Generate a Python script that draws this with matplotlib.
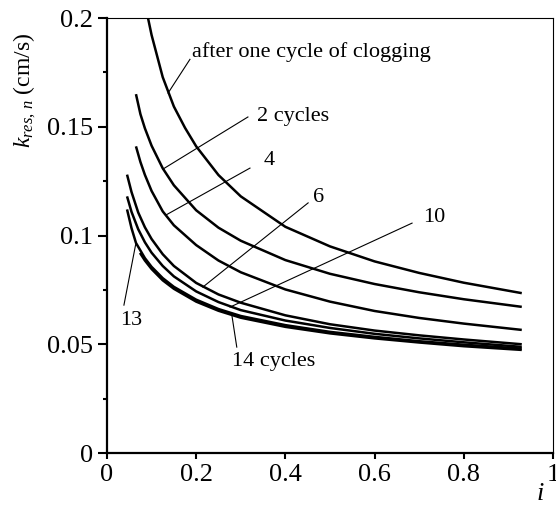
import matplotlib
matplotlib.use("Agg")
import matplotlib.pyplot as plt

plt.rcParams['font.family'] = 'Liberation Serif'
plt.rcParams['mathtext.fontset'] = 'custom'
plt.rcParams['mathtext.rm'] = 'Liberation Serif'
plt.rcParams['mathtext.it'] = 'Liberation Serif:italic'

# curves (hydraulic gradient i vs k_res,n)
i_c1 = [0.092, 0.1, 0.125, 0.15, 0.175, 0.2, 0.25, 0.3, 0.4, 0.5, 0.6, 0.7, 0.8, 0.93]
k_c1 = [0.2, 0.1922, 0.1728, 0.1593, 0.1495, 0.141, 0.1278, 0.1180, 0.1040, 0.0950, 0.0881, 0.0828, 0.0783, 0.0735]

i_c2 = [0.065, 0.075, 0.085, 0.1, 0.125, 0.15, 0.2, 0.25, 0.3, 0.4, 0.5, 0.6, 0.7, 0.8, 0.93]
k_c2 = [0.165, 0.1558, 0.1493, 0.1413, 0.1309, 0.1231, 0.1116, 0.1036, 0.0976, 0.0887, 0.0824, 0.0777, 0.0739, 0.0707, 0.0672]

i_c4 = [0.065, 0.075, 0.085, 0.1, 0.125, 0.15, 0.2, 0.25, 0.3, 0.4, 0.5, 0.6, 0.7, 0.8, 0.93]
k_c4 = [0.141, 0.1338, 0.1279, 0.1205, 0.1111, 0.1047, 0.0956, 0.0885, 0.0831, 0.0752, 0.0696, 0.0653, 0.0621, 0.0595, 0.0566]

i_c6 = [0.045, 0.055, 0.07, 0.085, 0.1, 0.125, 0.15, 0.2, 0.25, 0.3, 0.4, 0.5, 0.6, 0.7, 0.8, 0.93]
k_c6 = [0.128, 0.120, 0.1106, 0.1038, 0.0984, 0.0914, 0.0860, 0.0782, 0.0729, 0.0691, 0.0633, 0.0592, 0.0563, 0.0541, 0.0522, 0.0500]

i_c10 = [0.045, 0.055, 0.07, 0.085, 0.1, 0.125, 0.15, 0.2, 0.25, 0.3, 0.4, 0.5, 0.6, 0.7, 0.8, 0.93]
k_c10 = [0.118, 0.1109, 0.1029, 0.0969, 0.0921, 0.0860, 0.0812, 0.0743, 0.0694, 0.0657, 0.0609, 0.0575, 0.0548, 0.0527, 0.0509, 0.0488]

i_c13 = [0.045, 0.055, 0.065, 0.085, 0.1, 0.125, 0.15, 0.2, 0.25, 0.3, 0.4, 0.5, 0.6, 0.7, 0.8, 0.93]
k_c13 = [0.112, 0.1034, 0.0966, 0.0896, 0.0856, 0.0804, 0.0764, 0.0705, 0.0662, 0.0630, 0.0588, 0.0557, 0.0534, 0.0514, 0.0498, 0.0480]

i_c14 = [0.074, 0.085, 0.1, 0.125, 0.15, 0.2, 0.25, 0.3, 0.4, 0.5, 0.6, 0.7, 0.8, 0.93]
k_c14 = [0.092, 0.0885, 0.0846, 0.0794, 0.0755, 0.0696, 0.0654, 0.0622, 0.0580, 0.0550, 0.0527, 0.0508, 0.0491, 0.0474]

# labels: text, text position, leader line start, leader line end
labels = ['after one cycle of clogging', '2 cycles', '4', '6', '10', '13', '14 cycles']
label_xy = [(0.19, 0.1844), (0.336, 0.1545), (0.352, 0.1347), (0.462, 0.1177), (0.708, 0.1085), (0.03, 0.0611), (0.28, 0.0420)]
line_from = [(0.186, 0.181), (0.316, 0.1545), (0.3206, 0.131), (0.451, 0.115), (0.684, 0.1057), (0.038, 0.068), (0.291, 0.0487)]
line_to = [(0.137, 0.1655), (0.126, 0.1306), (0.132, 0.1094), (0.215, 0.0763), (0.276, 0.0671), (0.065, 0.0966), (0.28, 0.0634)]

xticks = [0, 0.2, 0.4, 0.6, 0.8, 1]
xtick_labels = ['0', '0.2', '0.4', '0.6', '0.8', '1']
yticks = [0, 0.05, 0.1, 0.15, 0.2]
ytick_labels = ['0', '0.05', '0.1', '0.15', '0.2']

fig = plt.figure(figsize=(5.56, 5.09), dpi=100)
ax = fig.add_axes([0.1924, 0.110, 0.8022, 0.8546])

for xs, ys in [(i_c1, k_c1), (i_c2, k_c2), (i_c4, k_c4), (i_c6, k_c6),
               (i_c10, k_c10), (i_c13, k_c13), (i_c14, k_c14)]:
    ax.plot(xs, ys, color='black', lw=1.8, solid_capstyle='butt', solid_joinstyle='round')

for txt, (tx, ty), (x0, y0), (x1, y1) in zip(labels, label_xy, line_from, line_to):
    ax.plot([x0, x1], [y0, y1], color='black', lw=0.8)
    ax.text(tx, ty, txt, fontsize=16, ha='left', va='center')

ax.set_xlim(0, 1)
ax.set_ylim(0, 0.2)
ax.set_xticks(xticks)
ax.set_xticklabels(xtick_labels)
ax.set_yticks(yticks)
ax.set_yticklabels(ytick_labels)
ax.set_yticks([0.025, 0.075, 0.125, 0.175], minor=True)
ax.tick_params(axis='both', which='major', labelsize=19, width=1.5, direction='out')
ax.tick_params(axis='y', which='major', length=6.5)
ax.tick_params(axis='x', which='major', length=4.5)
ax.tick_params(axis='y', which='minor', length=3, width=1.5)

for s in ['left', 'bottom']:
    ax.spines[s].set_linewidth(1.6)
for s in ['top', 'right']:
    ax.spines[s].set_linewidth(0.8)

ax.set_ylabel(r'$k_{res,\,n}$ (cm/s)', fontsize=17)
ax.yaxis.set_label_coords(-0.155, 0.834)
ax.text(0.971, -0.095, r'$i$', transform=ax.transAxes, fontsize=19, ha='center', va='center')

fig.savefig('out.png', dpi=100)
